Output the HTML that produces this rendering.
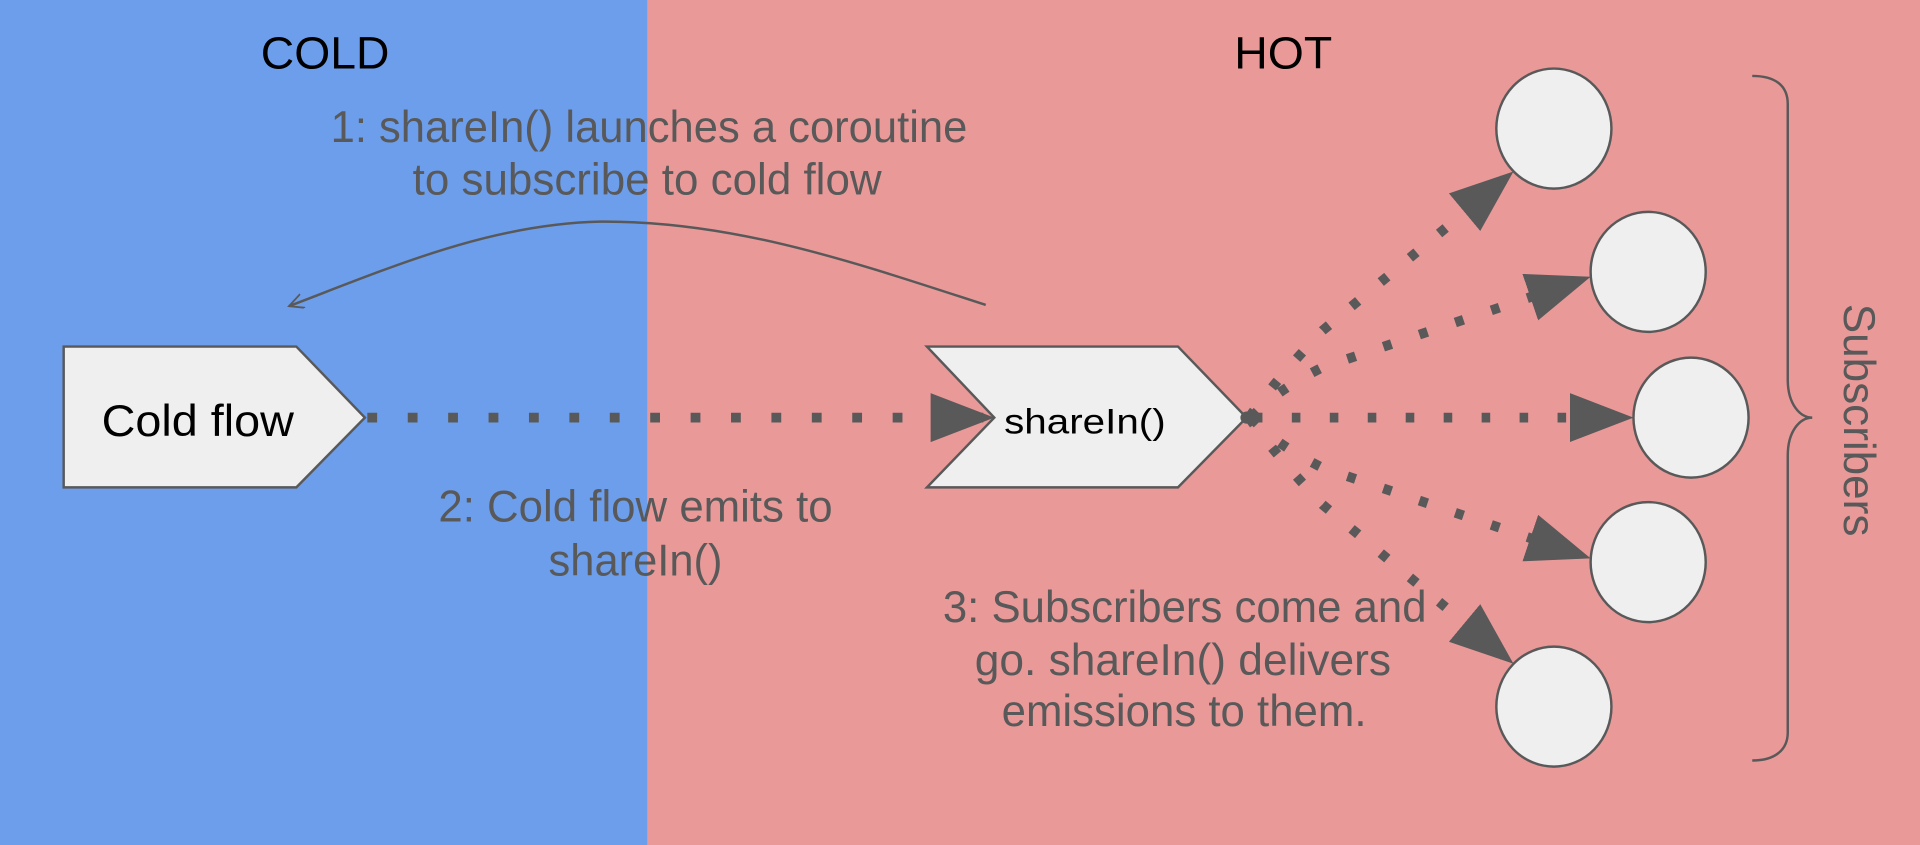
<!DOCTYPE html>
<html><head><meta charset="utf-8"><style>
html,body{margin:0;padding:0;width:1920px;height:845px;overflow:hidden}
svg{display:block}
text{font-family:"Liberation Sans",sans-serif}
</style></head><body>
<svg width="1920" height="845" viewBox="0 0 1568 690" preserveAspectRatio="none" xmlns="http://www.w3.org/2000/svg">
<defs>
<marker id="ah" markerUnits="userSpaceOnUse" markerWidth="56" markerHeight="44" refX="52" refY="20" orient="auto">
<path d="M0,0 L52,20 L0,40 Z" fill="#595959"/>
</marker>
<marker id="sa" markerUnits="userSpaceOnUse" markerWidth="16" markerHeight="16" refX="12" refY="6" orient="auto">
<path d="M0,0 L12,6 L0,12" fill="none" stroke="#595959" stroke-width="1.5"/>
</marker>
</defs>
<rect x="0" y="0" width="529" height="690" fill="#6d9eeb"/>
<rect x="529" y="0" width="1039" height="690" fill="#ea9999"/>
<text x="213" y="56" font-size="37" textLength="105" lengthAdjust="spacingAndGlyphs" fill="#000">COLD</text>
<text x="1008" y="56" font-size="37" textLength="80" lengthAdjust="spacingAndGlyphs" fill="#000">HOT</text>
<text x="270" y="116" font-size="36" textLength="520" lengthAdjust="spacingAndGlyphs" fill="#595959">1: shareIn() launches a coroutine</text>
<text x="337" y="159" font-size="36" textLength="383" lengthAdjust="spacingAndGlyphs" fill="#595959">to subscribe to cold flow</text>
<path d="M805,249 C700,215 600,180 490,181 C400,183 320,218 236,250" fill="none" stroke="#595959" stroke-width="2" marker-end="url(#sa)"/>
<path d="M52,283 L242,283 L298,341 L242,398 L52,398 Z" fill="#efefef" stroke="#595959" stroke-width="2"/>
<text x="83" y="356" font-size="36" textLength="157" lengthAdjust="spacingAndGlyphs" fill="#000">Cold flow</text>
<line x1="300" y1="341" x2="812" y2="341" stroke="#595959" stroke-width="8" stroke-dasharray="8 25" marker-end="url(#ah)"/>
<path d="M757,283 L962,283 L1018,341 L962,398 L757,398 L812,341 Z" fill="#efefef" stroke="#595959" stroke-width="2"/>
<text x="820" y="354" font-size="29" textLength="132" lengthAdjust="spacingAndGlyphs" fill="#000">shareIn()</text>
<text x="358" y="426" font-size="36" textLength="322" lengthAdjust="spacingAndGlyphs" fill="#595959">2: Cold flow emits to</text>
<text x="448" y="470" font-size="36" textLength="142" lengthAdjust="spacingAndGlyphs" fill="#595959">shareIn()</text>
<text x="770" y="508" font-size="36" textLength="395" lengthAdjust="spacingAndGlyphs" fill="#595959">3: Subscribers come and</text>
<text x="796" y="551" font-size="36" textLength="340" lengthAdjust="spacingAndGlyphs" fill="#595959">go. shareIn() delivers</text>
<text x="818" y="593" font-size="36" textLength="298" lengthAdjust="spacingAndGlyphs" fill="#595959">emissions to them.</text>
<g fill="none" stroke="#595959" stroke-width="8" stroke-dasharray="7 24">
<path d="M1020,341 Q1042,310 1080,270 L1236,140" marker-end="url(#ah)"/>
<path d="M1022,341 Q1040,320 1080,300 L1299,226" marker-end="url(#ah)"/>
<path d="M1024,341 L1334,341" marker-end="url(#ah)"/>
<path d="M1022,341 Q1040,362 1080,382 L1299,456" marker-end="url(#ah)"/>
<path d="M1020,341 Q1042,372 1080,412 L1236,542" marker-end="url(#ah)"/>
</g>
<circle cx="1018" cy="341" r="5" fill="#595959"/>
<g fill="#efefef" stroke="#595959" stroke-width="2">
<ellipse cx="1269" cy="105" rx="47" ry="49"/>
<ellipse cx="1346" cy="222" rx="47" ry="49"/>
<ellipse cx="1381" cy="341" rx="47" ry="49"/>
<ellipse cx="1346" cy="459" rx="47" ry="49"/>
<ellipse cx="1269" cy="577" rx="47" ry="49"/>
</g>
<path d="M1431,62 C1450,62 1460,70 1460,85 L1460,310 C1460,330 1470,341 1480,341 C1470,341 1460,352 1460,372 L1460,598 C1460,612 1450,621 1431,621" fill="none" stroke="#595959" stroke-width="2"/>
<text transform="translate(1506,248) rotate(90)" font-size="36" textLength="190" lengthAdjust="spacingAndGlyphs" fill="#595959">Subscribers</text>
</svg>
</body></html>
